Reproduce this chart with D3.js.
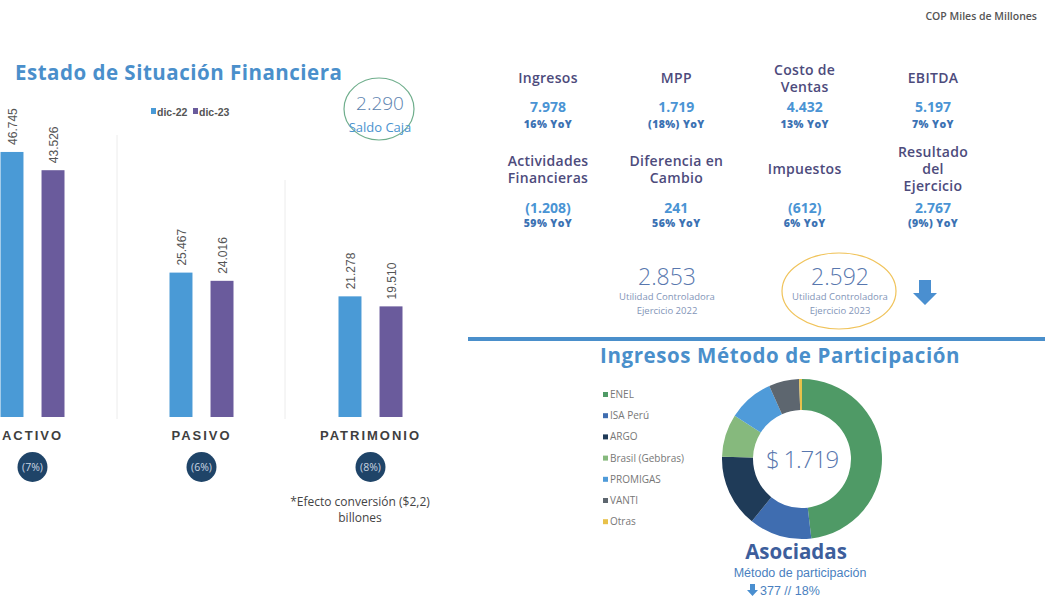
<!DOCTYPE html>
<html lang="es">
<head>
  <meta charset="utf-8">
  <title>Estado de Situación Financiera</title>
  <script src="https://d3js.org/d3.v7.min.js"></script>
  <style>
    body { margin: 0; background: #fff; }
    svg text { font-family: "Open Sans", sans-serif; }
    .arial { font-family: "Liberation Sans", Arial, sans-serif !important; }
  </style>
</head>
<body>
<div id="chart"></div>
<script>
"use strict";
// ---- datos ----
const categorias = ["ACTIVO", "PASIVO", "PATRIMONIO"];
const series = ["dic-22", "dic-23"];
const dic22 = [46745, 25467, 21278];
const dic23 = [43526, 24016, 19510];
const variaciones = ["(7%)", "(6%)", "(8%)"];
const saldoCaja = 2290;

const kpiTitulos = [["Ingresos"], ["MPP"], ["Costo de", "Ventas"], ["EBITDA"],
  ["Actividades", "Financieras"], ["Diferencia en", "Cambio"], ["Impuestos"], ["Resultado", "del", "Ejercicio"]];
const kpiValores = ["7.978", "1.719", "4.432", "5.197", "(1.208)", "241", "(612)", "2.767"];
const kpiYoY = ["16% YoY", "(18%) YoY", "13% YoY", "7% YoY", "59% YoY", "56% YoY", "6% YoY", "(9%) YoY"];

const utilidadValores = [2853, 2592];
const utilidadAnios = ["2022", "2023"];

const asociadas = ["ENEL", "ISA Perú", "ARGO", "Brasil (Gebbras)", "PROMIGAS", "VANTI", "Otras"];
const asociadasValores = [826, 217, 252, 148, 158, 105, 10];
const totalAsociadas = 1719;
const variacionAsociadas = "377 //  18%";

const colorSerie = { "dic-22": "#4a9ad6", "dic-23": "#6a5b9c" };
const colorAsociadas = ["#4f9a66", "#3f6db0", "#1f3b58", "#86b97d", "#4f9bd9", "#5d666f", "#e8c14a"];

const fmt = d3.formatLocale({ decimal: ",", thousands: ".", grouping: [3], currency: ["$", ""] }).format(",d");

const svg = d3.select("#chart").append("svg")
  .attr("width", 1045).attr("height", 600);

// ---- encabezado ----
svg.append("text").attr("x", 1037).attr("y", 20).attr("text-anchor", "end")
  .attr("font-size", 10.5).attr("font-weight", 600).attr("fill", "#555")
  .text("COP Miles de Millones");

svg.append("text").attr("x", 15).attr("y", 80)
  .attr("font-size", 20.5).attr("font-weight", 700).attr("letter-spacing", 0.5).attr("fill", "#4a8fcb")
  .text("Estado de Situación Financiera");

// ---- barras ----
const baseY = 417;
const x0 = d3.scaleBand().domain(categorias).range([-52, 455]);
const x1 = d3.scaleBand().domain(series).range([-32, 32]).paddingInner(0.44);
const y = d3.scaleLinear().domain([0, 50000]).range([baseY, baseY - 283.5]);

const datos = categorias.map((c, i) => ({ cat: c, vals: [
  { serie: "dic-22", v: dic22[i] }, { serie: "dic-23", v: dic23[i] }] }));

// separadores
const sep = [{ x: 117, y1: 135 }, { x: 285, y1: 180 }];
svg.selectAll("line.sep").data(sep).enter().append("line")
  .attr("x1", d => d.x).attr("x2", d => d.x).attr("y1", d => d.y1).attr("y2", baseY + 2)
  .attr("stroke", "#ececec").attr("stroke-width", 1);

const grupos = svg.selectAll("g.grupo").data(datos).enter().append("g")
  .attr("transform", d => "translate(" + (x0(d.cat) + x0.bandwidth() / 2) + ",0)");

grupos.selectAll("rect").data(d => d.vals).enter().append("rect")
  .attr("x", d => x1(d.serie)).attr("width", x1.bandwidth())
  .attr("y", d => y(d.v)).attr("height", d => baseY - y(d.v))
  .attr("fill", d => colorSerie[d.serie]);

grupos.selectAll("text.val").data(d => d.vals).enter().append("text")
  .attr("class", "arial")
  .attr("transform", d => "translate(" + (x1(d.serie) + x1.bandwidth() / 2 + 2) + "," + (y(d.v) - 7) + ") rotate(-90)")
  .attr("dominant-baseline", "middle")
  .attr("font-size", 12).attr("fill", "#555")
  .text(d => fmt(d.v));

grupos.append("text").attr("class", "arial").attr("y", 440).attr("text-anchor", "middle")
  .attr("font-size", 13).attr("font-weight", 700).attr("letter-spacing", 2).attr("fill", "#3f3f3f")
  .text(d => d.cat);

grupos.append("circle").attr("cy", 467).attr("r", 15).attr("fill", "#1f4468");
grupos.append("text").attr("y", 471).attr("text-anchor", "middle")
  .attr("font-size", 10.5).attr("fill", "#c9d4e2")
  .text((d, i) => variaciones[i]);

// leyenda barras
const leg = svg.selectAll("g.leg").data(series).enter().append("g")
  .attr("transform", (d, i) => "translate(" + (151 + i * 42) + ",112)");
leg.append("rect").attr("x", 0).attr("y", -4).attr("width", 5).attr("height", 6)
  .attr("fill", d => colorSerie[d]);
leg.append("text").attr("class", "arial").attr("x", 6).attr("y", 4)
  .attr("font-size", 10.5).attr("font-weight", 700).attr("fill", "#555").text(d => d);

// saldo caja
svg.append("ellipse").attr("cx", 379).attr("cy", 109).attr("rx", 35).attr("ry", 31)
  .attr("fill", "none").attr("stroke", "#6fae8c").attr("stroke-width", 1.2);
svg.append("text").attr("x", 380).attr("y", 110).attr("text-anchor", "middle")
  .attr("font-size", 19).attr("font-weight", 300).attr("fill", "#5a7fae").text(fmt(saldoCaja));
svg.append("text").attr("x", 380).attr("y", 132).attr("text-anchor", "middle")
  .attr("font-size", 13).attr("fill", "#4a93cf").text("Saldo Caja");

svg.append("text").attr("x", 360).attr("y", 506).attr("text-anchor", "middle")
  .attr("font-size", 12).attr("fill", "#444").text("*Efecto conversión ($2,2)");
svg.append("text").attr("x", 360).attr("y", 522).attr("text-anchor", "middle")
  .attr("font-size", 12).attr("fill", "#444").text("billones");

// ---- KPIs ----
const kx = d3.scalePoint().domain(d3.range(4)).range([548, 933]);
const filaCentro = [78, 169], filaValor = [112, 213], filaYoY = [128, 227];
const kpis = svg.selectAll("g.kpi").data(kpiTitulos).enter().append("g")
  .attr("transform", (d, i) => "translate(" + kx(i % 4) + ",0)");
kpis.each(function (lineas, i) {
  const g = d3.select(this), f = Math.floor(i / 4);
  const t0 = filaCentro[f] - (lineas.length - 1) * 8.5 + 5;
  g.selectAll("text.tit").data(lineas).enter().append("text")
    .attr("y", (d, j) => t0 + j * 17).attr("text-anchor", "middle")
    .attr("font-size", 14).attr("font-weight", 600).attr("letter-spacing", 0.3).attr("fill", "#4d4b7c").text(d => d);
  g.append("text").attr("y", filaValor[f]).attr("text-anchor", "middle")
    .attr("font-size", 14).attr("font-weight", 700).attr("fill", "#4a94d4").text(kpiValores[i]);
  g.append("text").attr("y", filaYoY[f]).attr("text-anchor", "middle")
    .attr("font-size", 10.5).attr("font-weight", 800).attr("letter-spacing", 0.4).attr("fill", "#3c72b3").text(kpiYoY[i]);
});

// utilidad controladora
const ux = [667, 840];
utilidadValores.forEach((v, i) => {
  svg.append("text").attr("x", ux[i]).attr("y", 285).attr("text-anchor", "middle")
    .attr("font-size", 23).attr("font-weight", 300).attr("fill", "#5877ae").text(fmt(v));
  svg.append("text").attr("x", ux[i]).attr("y", 300).attr("text-anchor", "middle")
    .attr("font-size", 9.5).attr("fill", "#8395b8").text("Utilidad  Controladora");
  svg.append("text").attr("x", ux[i]).attr("y", 314).attr("text-anchor", "middle")
    .attr("font-size", 9.5).attr("fill", "#8395b8").text("Ejercicio " + utilidadAnios[i]);
});
svg.append("ellipse").attr("cx", 839).attr("cy", 291).attr("rx", 57).attr("ry", 38)
  .attr("fill", "none").attr("stroke", "#f0c35a").attr("stroke-width", 1.2);
svg.append("path").attr("d", "M919,280 h12 v13 h6 l-12,12 l-12,-12 h6 z").attr("fill", "#4a8fd0");

svg.append("line").attr("x1", 468).attr("x2", 1045).attr("y1", 339).attr("y2", 339)
  .attr("stroke", "#4a8fcb").attr("stroke-width", 4);

// ---- dona ----
svg.append("text").attr("x", 600).attr("y", 363)
  .attr("font-size", 20.5).attr("font-weight", 700).attr("letter-spacing", 0.6).attr("fill", "#4a8fcb")
  .text("Ingresos Método de Participación");

const pie = d3.pie().sort(null).value(d => d);
const arc = d3.arc().innerRadius(49).outerRadius(80);
const dona = svg.append("g").attr("transform", "translate(802,459)");
dona.selectAll("path").data(pie(asociadasValores)).enter().append("path")
  .attr("d", arc).attr("fill", (d, i) => colorAsociadas[i]);
dona.append("text").attr("y", 9).attr("text-anchor", "middle")
  .attr("font-size", 24).attr("font-weight", 300).attr("letter-spacing", -1.2).attr("fill", "#5877ae")
  .text("$ " + fmt(totalAsociadas));

const legD = svg.selectAll("g.legd").data(asociadas).enter().append("g")
  .attr("transform", (d, i) => "translate(603," + (395 + i * 21.2) + ")");
legD.append("rect").attr("x", 0).attr("y", -3).attr("width", 5).attr("height", 5)
  .attr("fill", (d, i) => colorAsociadas[i]);
legD.append("text").attr("x", 7).attr("y", 3).attr("font-size", 10).attr("fill", "#777").text(d => d);

svg.append("text").attr("x", 796).attr("y", 559).attr("text-anchor", "middle")
  .attr("font-size", 20.5).attr("font-weight", 700).attr("fill", "#3d5e9c").text("Asociadas");
svg.append("text").attr("class", "arial").attr("x", 800).attr("y", 577).attr("text-anchor", "middle")
  .attr("font-size", 12.5).attr("fill", "#4a7fc0").text("Método de participación");
svg.append("path").attr("d", "M750,584 h5 v6 h3 l-5.5,6 l-5.5,-6 h3 z").attr("fill", "#4a8fd0");
svg.append("text").attr("class", "arial").attr("x", 760).attr("y", 595)
  .attr("font-size", 12.5).attr("fill", "#4a7fc0").text(variacionAsociadas);
</script>
</body>
</html>
